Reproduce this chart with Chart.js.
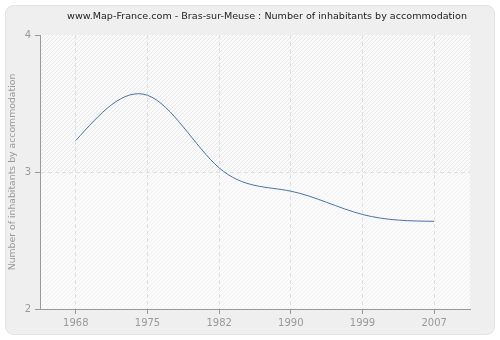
<!DOCTYPE html>
<html>
<head>
<meta charset="utf-8">
<script src="https://cdn.jsdelivr.net/npm/chart.js@4/dist/chart.umd.min.js"></script>
<style>
  html, body { margin: 0; padding: 0; background: #fff; }
  #wrap { width: 500px; height: 340px; }
</style>
</head>
<body>
<div id="wrap"><canvas id="chart" width="500" height="340"></canvas></div>
<script>
// Data
const years = ['1968', '1975', '1982', '1990', '1999', '2007'];
const inhabitantsPerHome = [3.23, 3.56, 3.03, 2.86, 2.69, 2.64];
const yTicks = [2, 3, 4];

const titleText = 'www.Map-France.com - Bras-sur-Meuse : Number of inhabitants by accommodation';
const FONT = "'DejaVu Sans', Verdana, sans-serif";

// diagonal "/" hatch tile for the plot background
function makeHatch(ctx, base, stripe) {
    const c = document.createElement('canvas');
    c.width = 4; c.height = 4;
    const g = c.getContext('2d');
    g.fillStyle = base;
    g.fillRect(0, 0, 4, 4);
    g.fillStyle = stripe;
    for (let x = 0; x < 4; x++) {
        g.fillRect(x, 3 - x, 1, 1);
    }
    return ctx.createPattern(c, 'repeat');
}

// derivatives of a natural cubic spline through vals (uniform parameter)
function naturalDerivs(vals) {
    const n = vals.length;
    const a = [], b = [], c = [], d = [];
    for (let i = 0; i < n; i++) {
        if (i === 0) { a[i] = 0; b[i] = 2; c[i] = 1; d[i] = 3 * (vals[1] - vals[0]); }
        else if (i === n - 1) { a[i] = 1; b[i] = 2; c[i] = 0; d[i] = 3 * (vals[n - 1] - vals[n - 2]); }
        else { a[i] = 1; b[i] = 4; c[i] = 1; d[i] = 3 * (vals[i + 1] - vals[i - 1]); }
    }
    for (let i = 1; i < n; i++) {
        const m = a[i] / b[i - 1];
        b[i] -= m * c[i - 1];
        d[i] -= m * d[i - 1];
    }
    const D = new Array(n);
    D[n - 1] = d[n - 1] / b[n - 1];
    for (let i = n - 2; i >= 0; i--) D[i] = (d[i] - c[i] * D[i + 1]) / b[i];
    return D;
}

// swap Chart.js' bezier handles for a natural spline (the reference's smoothing)
const naturalSpline = {
    id: 'naturalSpline',
    beforeDatasetDraw(chart, args) {
        const meta = args.meta;
        const pts = meta.data;
        if (pts.length < 3) return;
        meta.dataset.updateControlPoints(chart.chartArea, meta.iScale.axis);
        const dx = naturalDerivs(pts.map(p => p.x));
        const dy = naturalDerivs(pts.map(p => p.y));
        pts.forEach((p, i) => {
            p.cp1x = p.x - dx[i] / 3;
            p.cp1y = p.y - dy[i] / 3;
            p.cp2x = p.x + dx[i] / 3;
            p.cp2y = p.y + dy[i] / 3;
        });
    }
};

// Panel, banded plot background and title
const backdrop = {
    id: 'backdrop',
    beforeDraw(chart) {
        const ctx = chart.ctx;
        const area = chart.chartArea;
        const y = chart.scales.y;
        ctx.save();
        ctx.fillStyle = '#efefef';
        ctx.strokeStyle = '#e2e2e2';
        ctx.beginPath();
        ctx.roundRect(5.5, 5.5, 489, 329, 8);
        ctx.fill();
        ctx.stroke();

        const mid = y.getPixelForValue(3);
        ctx.fillStyle = makeHatch(ctx, '#fafafa', '#e8e8e8');
        ctx.fillRect(area.left, area.top, area.right - area.left, mid - area.top);
        ctx.fillStyle = makeHatch(ctx, '#fbfbfb', '#f1f1f1');
        ctx.fillRect(area.left, mid, area.right - area.left, area.bottom - mid);
        ctx.restore();
    },
    afterDraw(chart) {
        const ctx = chart.ctx;
        ctx.save();
        let size = 11;
        ctx.font = size + 'px ' + FONT;
        size = size * 400 / ctx.measureText(titleText).width;
        ctx.font = size.toFixed(2) + 'px ' + FONT;
        ctx.fillStyle = '#222';
        ctx.textAlign = 'center';
        ctx.textBaseline = 'middle';
        ctx.fillText(titleText, 267, 17);
        ctx.restore();
    }
};

new Chart(document.getElementById('chart'), {
    type: 'line',
    data: {
        labels: years,
        datasets: [{
            data: inhabitantsPerHome,
            borderColor: '#4a72a6',
            borderWidth: 1,
            pointRadius: 0,
            fill: false,
            tension: 0.4,
            capBezierPoints: false
        }]
    },
    options: {
        responsive: false,
        animation: false,
        layout: { padding: { top: 35, right: 30, left: 0, bottom: 0 } },
        plugins: {
            legend: { display: false },
            tooltip: { enabled: false },
            title: { display: false }
        },
        scales: {
            x: {
                offset: true,
                grid: {
                    offset: false,
                    color: '#e0e0e0',
                    tickColor: '#999',
                    tickLength: 5
                },
                border: { color: '#999', dash: [4, 3] },
                ticks: { color: '#999', font: { family: FONT, size: 10 }, padding: 3 },
                afterFit(scale) { scale.height = 31; }
            },
            y: {
                min: 2,
                max: 4,
                afterBuildTicks(scale) { scale.ticks = yTicks.map(v => ({ value: v })); },
                grid: {
                    color: ctx => ctx.tick && ctx.tick.value === 3 ? '#e0e0e0' : 'rgba(0,0,0,0)',
                    tickColor: '#999',
                    tickLength: 5
                },
                border: { color: '#999', dash: [4, 3] },
                ticks: { color: '#999', font: { family: FONT, size: 10 }, padding: 4 },
                title: {
                    display: true,
                    text: 'Number of inhabitants by accommodation',
                    color: '#999',
                    font: { family: FONT, size: 9.3 },
                    padding: { top: 7, bottom: 0 }
                },
                afterFit(scale) { scale.width = 40; }
            }
        }
    },
    plugins: [backdrop, naturalSpline]
});
</script>
</body>
</html>
